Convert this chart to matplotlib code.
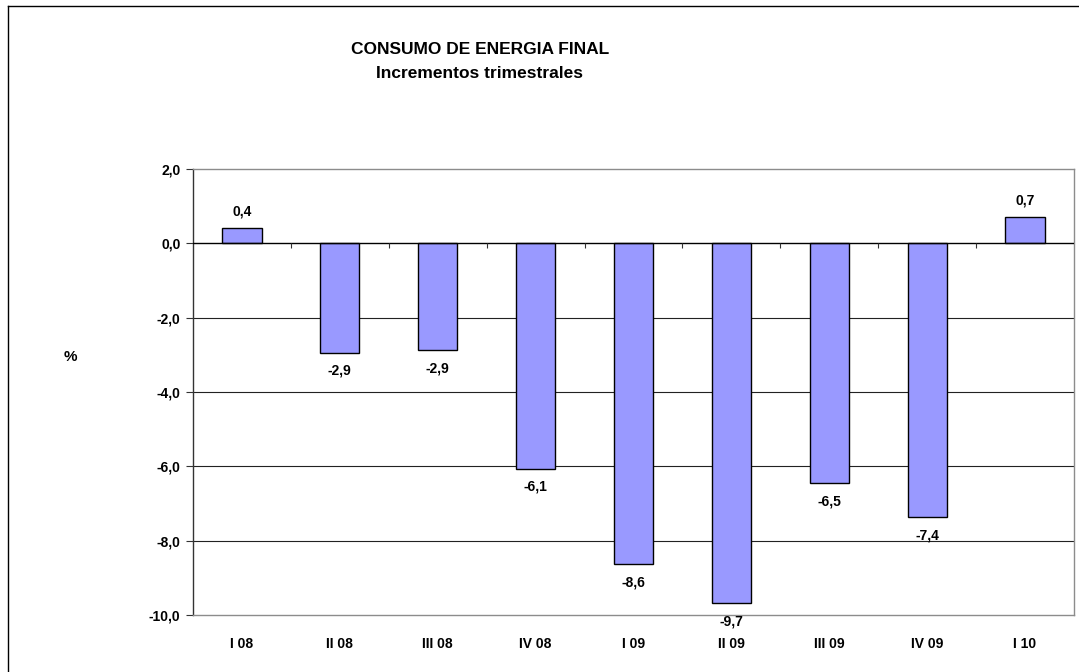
import matplotlib
matplotlib.use("Agg")
import matplotlib.pyplot as plt
from matplotlib.lines import Line2D
import numpy as np

categories = ["I 08", "II 08", "III 08", "IV 08", "I 09", "II 09", "III 09", "IV 09", "I 10"]
values = [0.4, -2.94, -2.88, -6.06, -8.63, -9.68, -6.46, -7.37, 0.71]
yticks = [-10, -8, -6, -4, -2, 0, 2]

plt.rcParams['font.family'] = ['Liberation Sans', 'DejaVu Sans']
plt.rcParams['font.weight'] = 'bold'

fig = plt.figure(figsize=(10.79, 6.72), dpi=100)
ax = fig.add_axes([193/1079, 1-615/672, (1074-193)/1079, (615-169)/672])

x = np.arange(len(categories))
ax.bar(x, values, width=0.40, color='#9999FF', edgecolor='black', linewidth=1.0, zorder=3)

ax.set_xlim(-0.5, len(categories)-0.5)
ax.set_ylim(-10, 2)
ax.set_yticks(yticks)
ax.set_yticklabels([f"{v:.1f}".replace('.', ',') for v in yticks], fontsize=10, fontweight='bold')
ax.set_xticks(x)
ax.set_xticklabels(categories, fontsize=10, fontweight='bold')
ax.tick_params(axis='x', length=0, pad=16)
ax.tick_params(axis='y', length=5, width=0.8, color='#333333', pad=4)

for v in yticks:
    if v not in (-10, 2, 0):
        ax.axhline(v, color='#222222', linewidth=0.8, zorder=1)
ax.axhline(0, color='black', linewidth=1.0, zorder=4)

# category boundary ticks on zero line
ax.vlines(x[:-1] + 0.5, -0.13, 0, color='#333333', linewidth=0.8, zorder=4)

for s in ['top', 'right', 'bottom']:
    ax.spines[s].set_color('#8c8c8c')
    ax.spines[s].set_linewidth(1.0)
ax.spines['left'].set_color('#333333')
ax.spines['left'].set_linewidth(1.0)

for xi, v in zip(x, values):
    off = 12 if v >= 0 else -13
    ax.annotate(f"{v:.1f}".replace('.', ','), (xi, v), xytext=(0, off),
                textcoords='offset points', ha='center', va='center',
                fontsize=10, fontweight='bold', zorder=5)

fig.text(480/1079, 1-49/672, "CONSUMO DE ENERGIA FINAL", ha='center', va='center',
         fontsize=12.5, fontweight='bold')
fig.text(479/1079, 1-73/672, "Incrementos trimestrales", ha='center', va='center',
         fontsize=12.5, fontweight='bold')
fig.text(70/1079, 1-357/672, "%", ha='center', va='center', fontsize=11, fontweight='bold')

# outer chart frame
fig.add_artist(Line2D([8/1079, 8/1079], [0, 1-6/672], transform=fig.transFigure, color='black', linewidth=1.0))
fig.add_artist(Line2D([8/1079, 1], [1-6/672, 1-6/672], transform=fig.transFigure, color='black', linewidth=1.0))

fig.savefig("out.png", dpi=100)
